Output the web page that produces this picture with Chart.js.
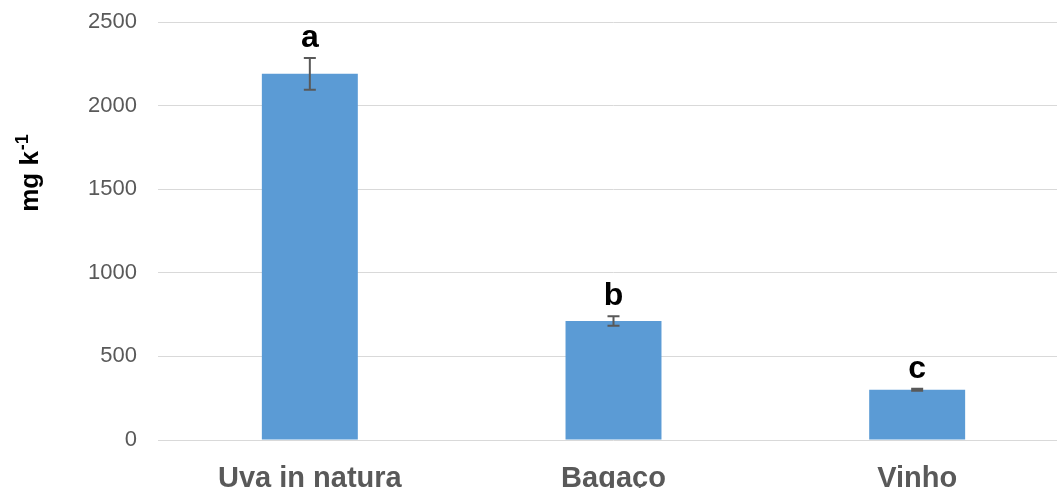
<!DOCTYPE html>
<html>
<head>
<meta charset="utf-8">
<script src="https://cdn.jsdelivr.net/npm/chart.js@4.4.1/dist/chart.umd.min.js"></script>
<style>
  html, body { margin: 0; padding: 0; background: #ffffff; overflow: hidden; width: 1057px; height: 488px; }
  #wrap { position: absolute; left: 0; top: 0; width: 1069px; height: 500px; }
</style>
</head>
<body>
<div id="wrap"><canvas id="c" width="1069" height="500"></canvas></div>
<script>
const categories = ["Uva in natura", "Bagaço", "Vinho"];
const values = [2190, 712, 300];
const errors = [95, 28, 6];
const letters = ["a", "b", "c"];
const yTicks = [0, 500, 1000, 1500, 2000, 2500];
const yTitle = "mg k";
const yTitleSup = "-1";

const FONT = "'Liberation Sans', Arial, sans-serif";

const errorBarPlugin = {
  id: 'errorBars',
  afterDatasetsDraw(chart) {
    const ctx = chart.ctx;
    const xs = chart.scales.x, ys = chart.scales.y;
    ctx.save();
    for (let i = 0; i < values.length; i++) {
      const x = xs.getPixelForValue(i);
      const yt = ys.getPixelForValue(values[i] + errors[i]);
      const yb = ys.getPixelForValue(values[i] - errors[i]);
      ctx.strokeStyle = '#595959';
      ctx.lineWidth = 2;
      ctx.beginPath();
      ctx.moveTo(x, yt); ctx.lineTo(x, yb);
      ctx.moveTo(x - 6, yt); ctx.lineTo(x + 6, yt);
      ctx.moveTo(x - 6, yb); ctx.lineTo(x + 6, yb);
      ctx.stroke();
      ctx.fillStyle = '#000000';
      ctx.font = "bold 32px " + FONT;
      ctx.textAlign = 'center';
      ctx.textBaseline = 'alphabetic';
      ctx.fillText(letters[i], x, yt - 11);
    }
    ctx.restore();
  }
};

const yTitlePlugin = {
  id: 'yTitle',
  afterDraw(chart) {
    const ctx = chart.ctx;
    ctx.save();
    ctx.translate(38, 173.5);
    ctx.rotate(-Math.PI / 2);
    ctx.fillStyle = '#000000';
    ctx.textBaseline = 'alphabetic';
    ctx.textAlign = 'left';
    ctx.font = "bold 26px " + FONT;
    const w1 = ctx.measureText(yTitle).width;
    ctx.font = "bold 18px " + FONT;
    const w2 = ctx.measureText(yTitleSup).width;
    const start = -(w1 + w2) / 2;
    ctx.font = "bold 26px " + FONT;
    ctx.fillText(yTitle, start, 0);
    ctx.font = "bold 18px " + FONT;
    ctx.fillText(yTitleSup, start + w1 + 1, -10);
    ctx.restore();
  }
};

new Chart(document.getElementById('c'), {
  type: 'bar',
  data: {
    labels: categories,
    datasets: [{
      data: values,
      backgroundColor: '#5b9bd5',
      borderWidth: 0,
      categoryPercentage: 1,
      barPercentage: 0.316
    }]
  },
  options: {
    responsive: false,
    animation: false,
    devicePixelRatio: 1,
    layout: { padding: { left: 0, right: 0, top: 22, bottom: 0 } },
    plugins: { legend: { display: false }, tooltip: { enabled: false } },
    scales: {
      x: {
        grid: { display: false },
        border: { display: false },
        ticks: {
          color: '#595959',
          font: { family: FONT, size: 29, weight: 'bold' },
          padding: 14,
          maxRotation: 0
        },
        afterFit(scale) { scale.height = 60; }
      },
      y: {
        min: 0,
        max: 2500,
        afterBuildTicks(scale) { scale.ticks = yTicks.map(v => ({ value: v })); },
        grid: { color: '#d9d9d9', lineWidth: 1, drawTicks: true, tickLength: 21, tickColor: 'rgba(0,0,0,0)' },
        border: { display: false },
        ticks: {
          color: '#595959',
          font: { family: FONT, size: 22 },
          padding: 0,
          callback: (v) => String(v)
        },
        afterFit(scale) { scale.width = 158; }
      }
    }
  },
  plugins: [errorBarPlugin, yTitlePlugin]
});
</script>
</body>
</html>
